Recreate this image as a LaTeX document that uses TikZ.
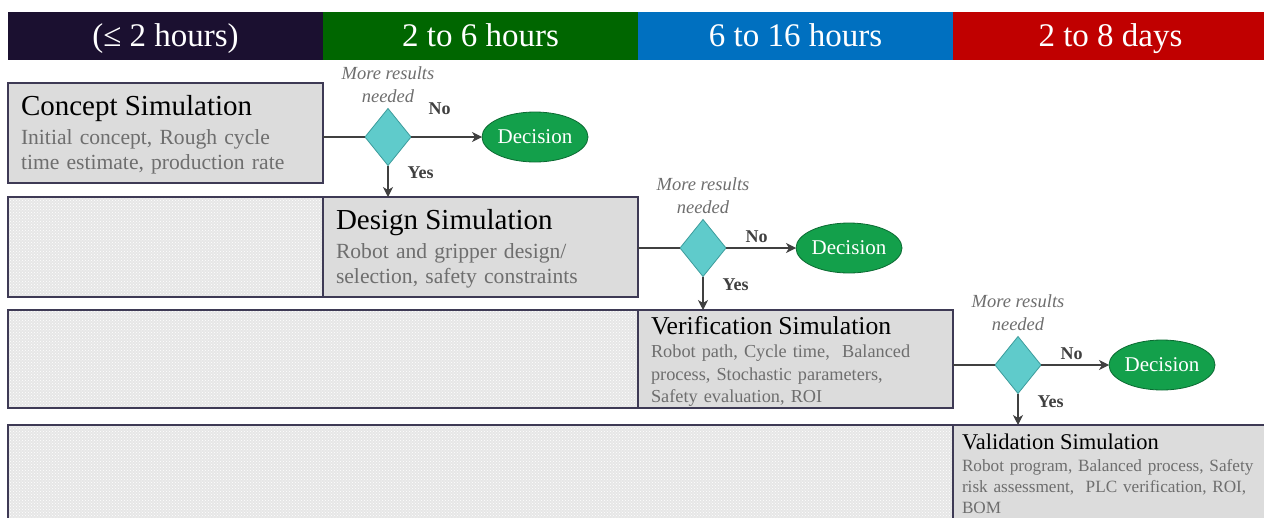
\documentclass[tikz,border=0pt]{standalone}
\usepackage{fontspec}
\setmainfont{Liberation Serif}
\usetikzlibrary{arrows.meta,positioning,shapes.geometric,patterns,backgrounds}

\definecolor{navyhead}{HTML}{1B1030}
\definecolor{greenhead}{HTML}{006600}
\definecolor{bluehead}{HTML}{0070C0}
\definecolor{redhead}{HTML}{C00000}
\definecolor{boxgray}{HTML}{DCDCDC}
\definecolor{hatchgray}{HTML}{E6E6E6}
\definecolor{boxline}{HTML}{3E3A55}
\definecolor{desctext}{HTML}{6E6E6E}
\definecolor{askfill}{HTML}{5FCBCB}
\definecolor{askline}{HTML}{3C9C9C}
\definecolor{decfill}{HTML}{13A04B}
\definecolor{decline}{HTML}{0B6A32}
\definecolor{arrowgray}{HTML}{404040}
\definecolor{lanegray}{HTML}{7A7A7A}

\begin{document}
\begin{tikzpicture}[
  x=1pt,y=-1pt,
  head/.style={anchor=north west,minimum width=315pt,minimum height=48pt,inner sep=0pt,outer sep=0pt,text=white,text height=23pt,text depth=3pt,font=\fontsize{33}{36}\selectfont},
  simbox/.style={anchor=north west,draw=boxline,line width=1.1pt,fill=boxgray,align=left,inner xsep=13pt,inner ysep=0pt,outer sep=0pt,text=desctext},
  hatchbox/.style={anchor=north west,draw=boxline,line width=1.1pt,preaction={fill=hatchgray},pattern=crosshatch dots,pattern color=white,inner sep=0pt,outer sep=0pt},
  ask/.style={diamond,draw=askline,fill=askfill,line width=0.8pt,minimum width=46pt,minimum height=57pt,inner sep=0pt,outer sep=0pt},
  decide/.style={ellipse,draw=decline,fill=decfill,line width=0.8pt,text=white,minimum width=106pt,minimum height=50pt,inner sep=0pt,outer sep=0pt,font=\fontsize{21}{23}\selectfont},
  lane/.style={dashed,draw=lanegray,line width=0.8pt,dash pattern=on 6pt off 4pt},
  link/.style={draw=arrowgray,line width=1.1pt},
  arr/.style={link,-{Stealth[length=10pt,width=10pt,inset=3pt]}},
  ann/.style={align=center,text=desctext,inner sep=0pt,font=\itshape\fontsize{18.5}{23}\selectfont},
  yn/.style={text=arrowgray,inner sep=0pt,font=\bfseries\fontsize{18}{20}\selectfont}
]
\useasboundingbox[fill=white] (0,0) rectangle (1264,517);

% time spans
\node[head,fill=navyhead] (span1) at (8,12) {(≤ 2 hours)};
\node[head,fill=greenhead,right=0pt of span1] (span2) {2 to 6 hours};
\node[head,fill=bluehead,right=0pt of span2]  (span3) {6 to 16 hours};
\node[head,fill=redhead,right=0pt of span3]   (span4) {2 to 8 days};

% simulation rows
\node[simbox,minimum width=315pt,minimum height=100pt,text width=289pt,text height=23pt,font=\fontsize{21.6}{25}\selectfont] (concept) at (8,83)
  {{\color{black}\fontsize{29}{30}\selectfont Concept Simulation}\\[4pt] Initial concept, Rough cycle\\ time estimate, production rate};

\node[hatchbox,minimum width=315pt,minimum height=100pt] (fill2) at (8,197) {};
\node[simbox,minimum width=315pt,minimum height=100pt,text width=289pt,text height=24pt,font=\fontsize{21.6}{25}\selectfont,right=0pt of fill2] (design)
  {{\color{black}\fontsize{29}{30}\selectfont Design Simulation}\\[4pt] Robot and gripper design/\\ selection, safety constraints};

\node[hatchbox,minimum width=630pt,minimum height=98pt] (fill3) at (8,310) {};
\node[simbox,minimum width=315pt,minimum height=98pt,text width=289pt,text height=23pt,font=\fontsize{18.3}{22.5}\selectfont,right=0pt of fill3] (verif)
  {{\color{black}\fontsize{25.7}{27}\selectfont Verification Simulation}\\[1pt] Robot path, Cycle time,~ Balanced\\ process, Stochastic parameters,\\ Safety evaluation, ROI};

\node[hatchbox,minimum width=945pt,minimum height=98pt] (fill4) at (8,425) {};
\node[simbox,minimum width=330pt,minimum height=98pt,inner xsep=9pt,text width=312pt,font=\fontsize{17.2}{21}\selectfont,right=0pt of fill4] (valid)
  {{\color{black}\fontsize{22.5}{25}\selectfont Validation Simulation}\\[1pt] Robot program, Balanced process, Safety\\ risk assessment,~ PLC verification, ROI,\\ BOM};

% decisions
\node[ask] (ask1) at (388,137) {};
\node[decide,right=71pt of ask1] (done1) {Decision};
\node[ask] (ask2) at (703,248) {};
\node[decide,right=70pt of ask2] (done2) {Decision};
\node[ask] (ask3) at (1018,365) {};
\node[decide,right=68pt of ask3] (done3) {Decision};

\node[ann,above=6pt of ask1] (why1) {More results\\needed};
\node[ann,above=6pt of ask2] (why2) {More results\\needed};
\node[ann,above=6pt of ask3] (why3) {More results\\needed};

\draw[link] (concept.east |- ask1) -- (ask1.west);
\draw[arr] (ask1.east) -- node[yn,pos=0,anchor=south west,xshift=17pt,yshift=22pt] {No} (done1.west);
\draw[arr] (ask1.south) -- node[yn,pos=0,anchor=north west,xshift=19pt,yshift=-1pt] {Yes} (ask1.south |- design.north);

\draw[link] (design.east |- ask2) -- (ask2.west);
\draw[arr] (ask2.east) -- node[yn,pos=0,anchor=south west,xshift=19pt,yshift=5pt] {No} (done2.west);
\draw[arr] (ask2.south) -- node[yn,pos=0,anchor=north west,xshift=19pt,yshift=-2pt] {Yes} (ask2.south |- verif.north);

\draw[link] (verif.east |- ask3) -- (ask3.west);
\draw[arr] (ask3.east) -- node[yn,pos=0,anchor=south west,xshift=19pt,yshift=5pt] {No} (done3.west);
\draw[arr] (ask3.south) -- node[yn,pos=0,anchor=north west,xshift=19pt,yshift=-2pt] {Yes} (ask3.south |- valid.north);

% lane borders
\begin{scope}[on background layer]
\draw[lane] (span1.south west) -- (fill4.north west);
\draw[lane] (span2.south west) -- (design.north west);
\draw[lane] (span3.south west) -- (verif.north west);
\draw[lane] (span4.south west) -- (valid.north west);
\end{scope}
\end{tikzpicture}
\end{document}
